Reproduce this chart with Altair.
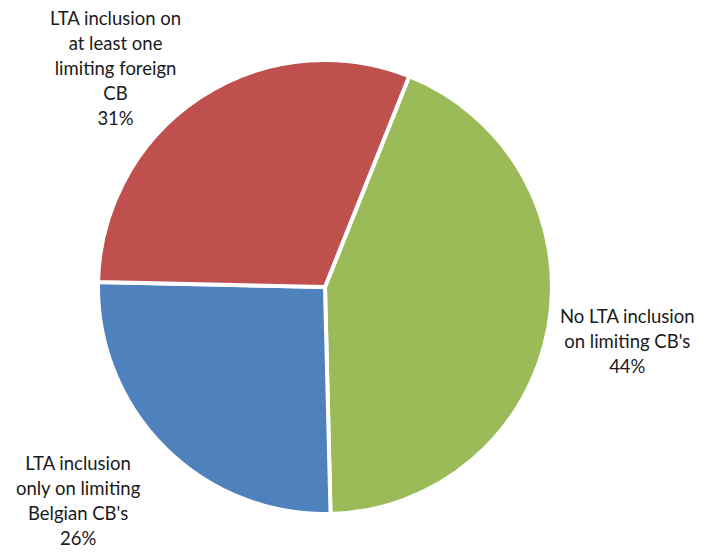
import altair as alt
import pandas as pd

categories = ["No LTA inclusion\non limiting CB's",
              "LTA inclusion\nonly on limiting\nBelgian CB's",
              "LTA inclusion on\nat least one\nlimiting foreign\nCB"]
shares = [44, 26, 31]
colors = ["#9BBB59", "#4F81BD", "#C0504D"]

df = pd.DataFrame({
    "category": categories,
    "share": shares,
    "order": [0, 1, 2],
})
df["label"] = df["category"] + "\n" + df["share"].astype(str) + "%"

start = 0.38
theta_scale = alt.Scale(domain=[0, 1], range=[start, start + 2 * 3.141592653589793])

base = (
    alt.Chart(df)
    .transform_joinaggregate(total="sum(share)")
    .transform_window(cum="sum(share)", sort=[alt.SortField("order")], frame=[None, 0])
    .transform_calculate(
        t_end="datum.cum / datum.total",
        t_start="(datum.cum - datum.share) / datum.total",
        t_mid="(datum.cum - datum.share / 2) / datum.total",
    )
)

pie = base.mark_arc(outerRadius=227, stroke="white", strokeWidth=4).encode(
    theta=alt.Theta("t_start:Q", scale=theta_scale, stack=None),
    theta2="t_end:Q",
    color=alt.Color("category:N", scale=alt.Scale(domain=categories, range=colors), legend=None),
)

LH = 25
label_offsets = [(7, -23), (-35, -35), (-44, -18)]


def label_layer(i):
    dx, dy = label_offsets[i]
    return base.transform_filter(alt.datum.order == i).mark_text(
        radius=300, font="Lato", fontSize=18.5, lineBreak="\n",
        lineHeight=LH, color="#1a1a1a", align="center",
        baseline="middle", dx=dx, dy=dy).encode(
        theta=alt.Theta("t_mid:Q", scale=theta_scale, stack=None),
        text="label:N",
    )


chart = alt.layer(pie, label_layer(0), label_layer(1), label_layer(2)).properties(
    width=634, height=524,
    autosize=alt.AutoSizeParams(type="none"),
    padding={"left": 0, "top": 17, "right": 58, "bottom": 0},
).configure_view(stroke=None)

chart.save("out.html", embed_options={"renderer": "svg", "actions": False})
